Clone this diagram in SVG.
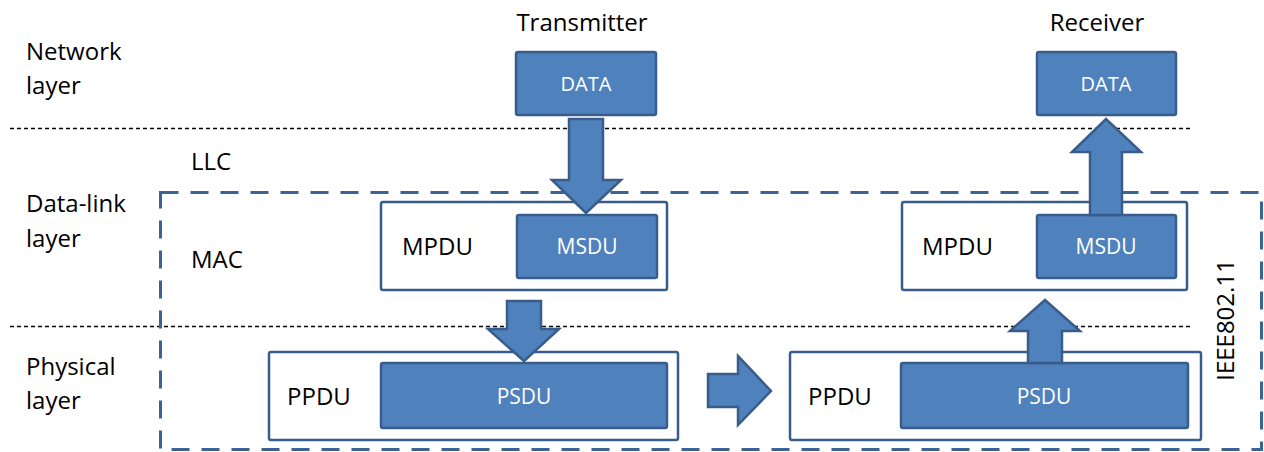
<svg xmlns="http://www.w3.org/2000/svg" width="1264" height="452" viewBox="0 0 1264 452">
<style>
.lbl{font-family:"Open Sans","Liberation Sans",sans-serif;font-size:24px;fill:#000}
.wt{font-family:"Open Sans","Liberation Sans",sans-serif;font-size:20px;fill:#fff;text-anchor:middle}
.wt2{font-size:21px}
.blue{fill:#4f81bd;stroke:#385d8a;stroke-width:2.5}
.outer{fill:#fff;stroke:#385d8a;stroke-width:2.5}
.sep{stroke:#000;stroke-width:1.5;stroke-dasharray:4 3;fill:none}
.arrow{fill:#4f81bd;stroke:#385d8a;stroke-width:2.5;stroke-linejoin:miter}
</style>
<rect width="1264" height="452" fill="#fff"/>
<g id="layer-separators">
<line class="sep" x1="10" y1="128.5" x2="1192" y2="128.5"/>
<line class="sep" x1="10" y1="326.5" x2="1190" y2="326.5"/>
</g>
<g id="layer-labels">
<text class="lbl" x="26" y="60">Network</text>
<text class="lbl" x="26" y="94">layer</text>
<text class="lbl" x="26" y="212">Data-link</text>
<text class="lbl" x="26" y="247">layer</text>
<text class="lbl" x="26" y="375">Physical</text>
<text class="lbl" x="26" y="409">layer</text>
<text class="lbl" x="191" y="170">LLC</text>
<text class="lbl" x="191" y="268">MAC</text>
<text class="lbl" x="582" y="31" text-anchor="middle">Transmitter</text>
<text class="lbl" x="1097" y="31" text-anchor="middle">Receiver</text>
</g>
<g id="ieee80211">
<rect x="160.5" y="192.5" width="1101" height="257" fill="none" stroke="#3c6393" stroke-width="3" stroke-dasharray="18 12"/>
<text class="lbl" transform="translate(1234,320) rotate(-90)" text-anchor="middle">IEEE802.11</text>
</g>
<g id="tx-data">
<rect class="blue" x="516" y="52" width="140" height="63" rx="2"/>
<text class="wt" x="586" y="91">DATA</text>
</g>
<g id="rx-data">
<rect class="blue" x="1037" y="52" width="139" height="63" rx="2"/>
<text class="wt" x="1106" y="91">DATA</text>
</g>
<g id="tx-mpdu">
<rect class="outer" x="381" y="202" width="286" height="88" rx="2"/>
<text class="lbl" x="402" y="255">MPDU</text>
<rect class="blue" x="517" y="215" width="140" height="63" rx="2"/>
<text class="wt wt2" x="587" y="254">MSDU</text>
</g>
<g id="rx-mpdu">
<rect class="outer" x="902" y="202" width="285" height="88" rx="2"/>
<text class="lbl" x="922" y="255">MPDU</text>
<rect class="blue" x="1037" y="215" width="139" height="63" rx="2"/>
<text class="wt wt2" x="1106" y="254">MSDU</text>
</g>
<g id="tx-ppdu">
<rect class="outer" x="269" y="352" width="409" height="88" rx="2"/>
<text class="lbl" x="287" y="405">PPDU</text>
<rect class="blue" x="381" y="363" width="286" height="65" rx="2"/>
<text class="wt wt2" x="524" y="404">PSDU</text>
</g>
<g id="rx-ppdu">
<rect class="outer" x="790" y="352" width="411" height="88" rx="2"/>
<text class="lbl" x="808" y="405">PPDU</text>
<rect class="blue" x="901" y="363" width="287" height="65" rx="2"/>
<text class="wt wt2" x="1044" y="404">PSDU</text>
</g>
<g id="connectors">
<polygon class="arrow" points="569,119 603,119 603,180 621,180 586,213 552,180 569,180"/>
<polygon class="arrow" points="1090,215 1090,152 1072,152 1106,119 1141,152 1122,152 1122,215"/>
<polygon class="arrow" points="507,301 541,301 541,329 559,329 524,361 488,329 507,329"/>
<polygon class="arrow" points="1028,363 1028,331 1010,331 1045,300 1080,331 1062,331 1062,363"/>
<polygon class="arrow" points="708,374 738,374 738,356 771,391 738,425 738,407 708,407"/>
</g>
</svg>
